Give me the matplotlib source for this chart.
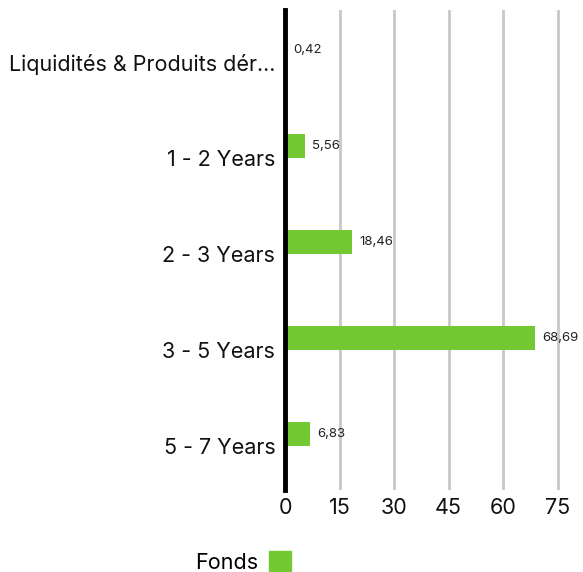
import matplotlib
matplotlib.use("Agg")
import matplotlib.pyplot as plt
from matplotlib.patches import Patch

categories = ["Liquidités & Produits dér...", "1 - 2 Years", "2 - 3 Years", "3 - 5 Years", "5 - 7 Years"]
values = [0.42, 5.56, 18.46, 68.69, 6.83]
value_labels = ["0,42", "5,56", "18,46", "68,69", "6,83"]
xticks = [0, 15, 30, 45, 60, 75]
series_name = "Fonds"
green = "#72C932"

plt.rcParams['font.family'] = ['Inter', 'DejaVu Sans']

fig = plt.figure(figsize=(5.83, 5.72), dpi=100)
ax = fig.add_axes([285/583, 1-490/572, 291/583, 480/572])

ypos = list(range(len(categories)))
ax.barh([y - 0.125 for y in ypos], values, height=0.25, color=green, zorder=3)
for y, v, lab in zip(ypos, values, value_labels):
    ax.text(v + 1.9, y - 0.125, lab, va='center', ha='left', fontsize=9.5, color='#222222', zorder=4)

ax.set_xlim(0, 80)
ax.set_ylim(4.458, -0.542)
ax.set_yticks(ypos)
ax.set_yticklabels(categories, fontsize=15.5, color='#111111')
ax.set_xticks(xticks)
ax.set_xticklabels([str(t) for t in xticks], fontsize=15.5, color='#111111')
ax.tick_params(axis='both', length=0)
ax.tick_params(axis='x', pad=6)
ax.tick_params(axis='y', pad=7)
ax.xaxis.grid(True, color='#c8c8c8', linewidth=2, zorder=0)
ax.yaxis.grid(False)
for s in ['top', 'right', 'bottom']:
    ax.spines[s].set_visible(False)
ax.spines['left'].set_linewidth(3.5)
ax.spines['left'].set_color('black')
ax.spines['left'].set_zorder(5)

fig.legend(handles=[Patch(color=green, label=series_name)], loc='center',
           bbox_to_anchor=(243/583, 1-562/572), frameon=False, markerfirst=False,
           fontsize=15.5, handlelength=1.0, handleheight=1.0, handletextpad=0.5)

fig.savefig("out.png", dpi=100)
